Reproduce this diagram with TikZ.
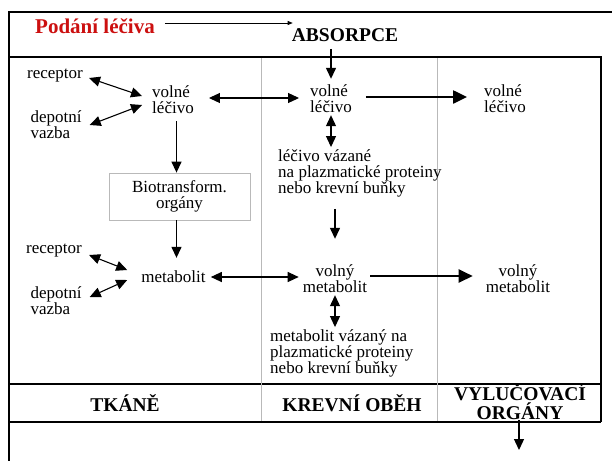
\documentclass[tikz,border=0pt]{standalone}
\usepackage{fontspec}
\setmainfont{Liberation Serif}
\usepackage{xcolor}
\usepackage{tikz}
\usetikzlibrary{arrows.meta,calc}
\definecolor{podred}{RGB}{204,16,16}
\definecolor{framegray}{RGB}{185,185,185}
\newcommand{\txtsize}{\fontsize{17}{16}\selectfont}
\newcommand{\hdrsize}{\fontsize{19.5}{19}\selectfont\bfseries}

\begin{document}
\begin{tikzpicture}[x=1pt,y=-1pt,
  >={Triangle[length=11pt,width=10pt]},
  lbl/.style={inner sep=2pt,font=\txtsize,align=center},
  lbll/.style={inner sep=2pt,font=\txtsize,align=left},
  hdr/.style={inner sep=2pt,font=\hdrsize,align=center},
  arr/.style={->,line width=1.3pt},
  dbl/.style={<->,line width=1.1pt},
  fat/.style={-{Triangle[length=14pt,width=13pt]},line width=2.4pt},
  thinarr/.style={-{Triangle[length=5pt,width=4pt]},line width=0.7pt},
  biobox/.style={lbl,draw=framegray,line width=0.8pt,minimum width=141pt,minimum height=47pt}]
  \useasboundingbox (0,0) rectangle (612,461);

  % frame
  \draw[line width=1.8pt] (8,12) -- (612,12);
  \draw[line width=2.2pt] (9,11) -- (9,461);
  \draw[line width=1.8pt] (9,57) -- (601,57) -- (601,422);
  \draw[line width=1.4pt] (9,384) -- (601,384);
  \draw[line width=1.4pt] (9,422) -- (601,422);
  \draw[framegray,line width=0.9pt] (261,58) -- (261,421) (437,58) -- (437,421);

  \node [hdr,font=\fontsize{21}{21}\selectfont\bfseries,text=podred,anchor=west] (pod) at (33,26) {Podání léčiva};
  \node [hdr] (abs) at (345,35) {ABSORPCE};

  \node [lbl] (rec1) at (55,76) {receptor};
  \node [lbll] (dep1) at (56,125) {depotní\\vazba};
  \node [lbll] (fl1) at (173,100) {volné\\léčivo};
  \node [lbll] (fl2) at (331,99) {volné\\léčivo};
  \node [lbll] (fl3) at (505,99) {volné\\léčivo};
  \node [lbll,anchor=west] (bound) at (276,173) {léčivo vázané\\na plazmatické proteiny\\nebo krevní buňky};
  \node [biobox] (bio) at (179.5,196.5) {Biotransform.\\orgány};

  \node [lbl] (rec2) at (54,251) {receptor};
  \node [lbll] (dep2) at (56,301) {depotní\\vazba};
  \node [lbl] (met) at (173.5,277) {metabolit};
  \node [lbl] (fm2) at (335,279) {volný\\metabolit};
  \node [lbl] (fm3) at (518,279) {volný\\metabolit};
  \node [lbll,anchor=west] (mbound) at (268,353) {metabolit vázaný na\\plazmatické proteiny\\nebo krevní buňky};

  \node [hdr] (tk) at (125,403) {TKÁNĚ};
  \node [hdr] (ko) at (352,403) {KREVNÍ OBĚH};
  \node [hdr,inner sep=0pt] (vo) at (520,402) {VYLUČOVACÍ\\ORGÁNY};
  \coordinate (out) at (519,450);

  \draw [thinarr] ([xshift=8pt,yshift=3pt]pod.east) -- ([xshift=3pt,yshift=3pt]pod.east -| abs.west);
  \draw [arr,shorten <=5pt,shorten >=4pt] (abs.south -| fl2.north) -- (fl2.north);

  % free drug
  \draw [dbl] ([xshift=4pt,yshift=-2pt]rec1.east) -- ([xshift=-8pt,yshift=4pt]fl1.west);
  \draw [dbl] ([xshift=6pt]dep1.east) -- ([xshift=-8pt,yshift=-5pt]fl1.west);
  \draw [dbl,shorten <=13pt,shorten >=9pt] ([yshift=2pt]fl1.east) -- ([yshift=2pt]fl1.east -| fl2.west);
  \draw [fat,shorten <=12pt,shorten >=15pt] ([yshift=2pt]fl2.east) -- ([yshift=2pt]fl2.east -| fl3.west);
  \draw [dbl] (fl2.south) -- (fl2.south |- bound.north);
  \draw [arr,shorten <=5pt] ([xshift=-3pt]fl1.south -| bio.north) -- ([xshift=-3pt]bio.north);
  \draw [arr,shorten <=10pt,shorten >=24pt] (fm2.north |- bound.south) -- (fm2.north);
  \draw [arr,shorten >=11pt] ([xshift=-3pt]bio.south) -- ([xshift=-3pt]bio.south |- met.north);

  % metabolite
  \draw [dbl] ([xshift=5pt,yshift=-4pt]rec2.east) -- ([xshift=-12pt,yshift=7pt]met.west);
  \draw [dbl] ([xshift=6pt,yshift=4pt]dep2.east) -- ([xshift=-12pt,yshift=-3pt]met.west);
  \draw [dbl,shorten <=3pt,shorten >=2pt] (met.east) -- (met.east -| fm2.west);
  \draw [fat,shorten <=1pt,shorten >=11pt] ([yshift=3pt]fm2.east) -- ([yshift=3pt]fm2.east -| fm3.west);
  \draw [dbl] (fm2.south) -- (fm2.south |- mbound.north);

  \draw [arr] (vo.south -| out) -- (out);
\end{tikzpicture}
\end{document}
